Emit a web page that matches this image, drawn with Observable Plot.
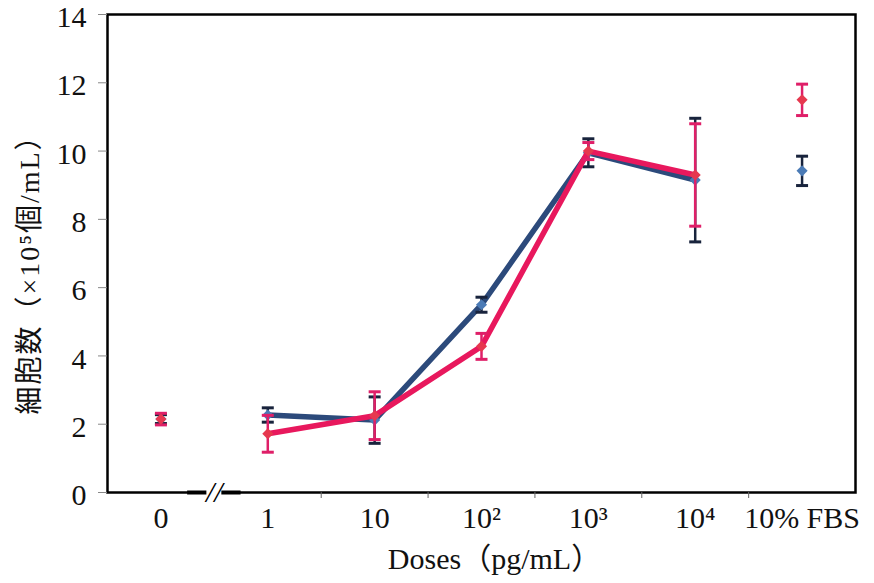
<!DOCTYPE html>
<html><head><meta charset="utf-8">
<script src="https://cdn.jsdelivr.net/npm/d3@7"></script>
<script src="https://cdn.jsdelivr.net/npm/@observablehq/plot@0.6"></script>
<style>body{margin:0;background:#fff}</style>
</head><body><div id="chart"></div>
<script>
const categories = ["0", "1", "10", "10²", "10³", "10⁴", "10% FBS"];
const blueMean = [2.15, 2.27, 2.12, 5.5, 9.95, 9.15, 9.42];
const blueErr  = [0.13, 0.21, 0.68, 0.22, 0.41, 1.81, 0.43];
const pinkMean = [2.15, 1.72, 2.25, 4.28, 10.0, 9.3, 11.5];
const pinkErr  = [0.17, 0.54, 0.70, 0.38, 0.25, 1.5, 0.46];
const joined   = [false, true, true, true, true, true, false];
const yTicks = [0, 2, 4, 6, 8, 10, 12, 14];
const breakAfter = 0;
const yLabel = "細胞数（×10⁵個/mL）";
const xLabel = "Doses（pg/mL）";

const series = [
  {name: "blue", mean: blueMean, err: blueErr, line: "#2c4a7b", bar: "#18233c", mark: "#4b7bb6"},
  {name: "pink", mean: pinkMean, err: pinkErr, line: "#e8185d", bar: "#df1f68", mark: "#e6384f"}
];
const rows = s => categories.map((c, i) => ({i, c, mean: s.mean[i], err: s.err[i], joined: joined[i]}));

const capSymbol = {draw(ctx, size) { const r = Math.sqrt(size / Math.PI); ctx.moveTo(-r, 0); ctx.lineTo(r, 0); }};

const marks = [
  Plot.frame({stroke: "black", strokeWidth: 2.5}),
  Plot.axisY({ticks: yTicks, tickSize: 9, tickFormat: () => "", label: null, stroke: "#888"}),
  Plot.axisY({ticks: yTicks, tickSize: 0, tickPadding: 21, dy: 3, fontSize: 30, label: null, fill: "#111"}),
  Plot.axisX({ticks: d3.range(categories.length), tickFormat: i => categories[i], tickSize: 0, tickPadding: 14, fontSize: 30, label: null, fill: "#111"}),
  Plot.axisX({ticks: d3.range(breakAfter + 1, categories.length - 1).map(i => i + 0.5), tickFormat: () => "", tickSize: 6, stroke: "#666", label: null}),
  // axis break
  Plot.ruleY([0], {x1: breakAfter + 0.25, x2: breakAfter + 0.75, stroke: "black", strokeWidth: 4}),
  Plot.ruleY([0], {x1: breakAfter + 0.43, x2: breakAfter + 0.57, stroke: "white", strokeWidth: 10}),
  Plot.text(["//"], {x: () => breakAfter + 0.5, y: () => 0, text: d => d, fontSize: 30, fontStyle: "italic", fill: "black"}),
];

for (const s of series) {
  const data = rows(s);
  marks.push(
    Plot.line(data.filter(d => d.joined), {x: "i", y: "mean", stroke: s.line, strokeWidth: 5.5}),
    Plot.ruleX(data, {x: "i", y1: d => d.mean - d.err, y2: d => d.mean + d.err, stroke: s.bar, strokeWidth: 2.5}),
    Plot.dot(data, {x: "i", y: d => d.mean + d.err, symbol: capSymbol, r: 6, stroke: s.bar, strokeWidth: 3}),
    Plot.dot(data, {x: "i", y: d => d.mean - d.err, symbol: capSymbol, r: 6, stroke: s.bar, strokeWidth: 3}),
    Plot.dot(data, {x: "i", y: "mean", symbol: "diamond2", r: 5, fill: s.mark, stroke: "none"})
  );
}

marks.push(
  Plot.text([yLabel], {text: d => d, frameAnchor: "left", textAnchor: "middle", rotate: -90, dx: -77, dy: 14, fontSize: 28, fill: "#111"}),
  Plot.text([xLabel], {text: d => d, frameAnchor: "bottom", dx: 13, dy: 76, fontSize: 30, fill: "#111"})
);

const chart = Plot.plot({
  width: 874, height: 583,
  marginLeft: 107, marginRight: 19, marginTop: 14, marginBottom: 91,
  x: {type: "linear", domain: [-0.5, categories.length - 0.5]},
  y: {domain: [0, 14]},
  style: {fontFamily: "'Liberation Serif', 'Noto Sans CJK JP', serif", background: "white", overflow: "visible"},
  marks
});
document.getElementById("chart").append(chart);
d3.select(chart).selectAll("text").filter(function() { return this.textContent === yLabel; }).style("letter-spacing", "2px");
</script>
</body></html>
